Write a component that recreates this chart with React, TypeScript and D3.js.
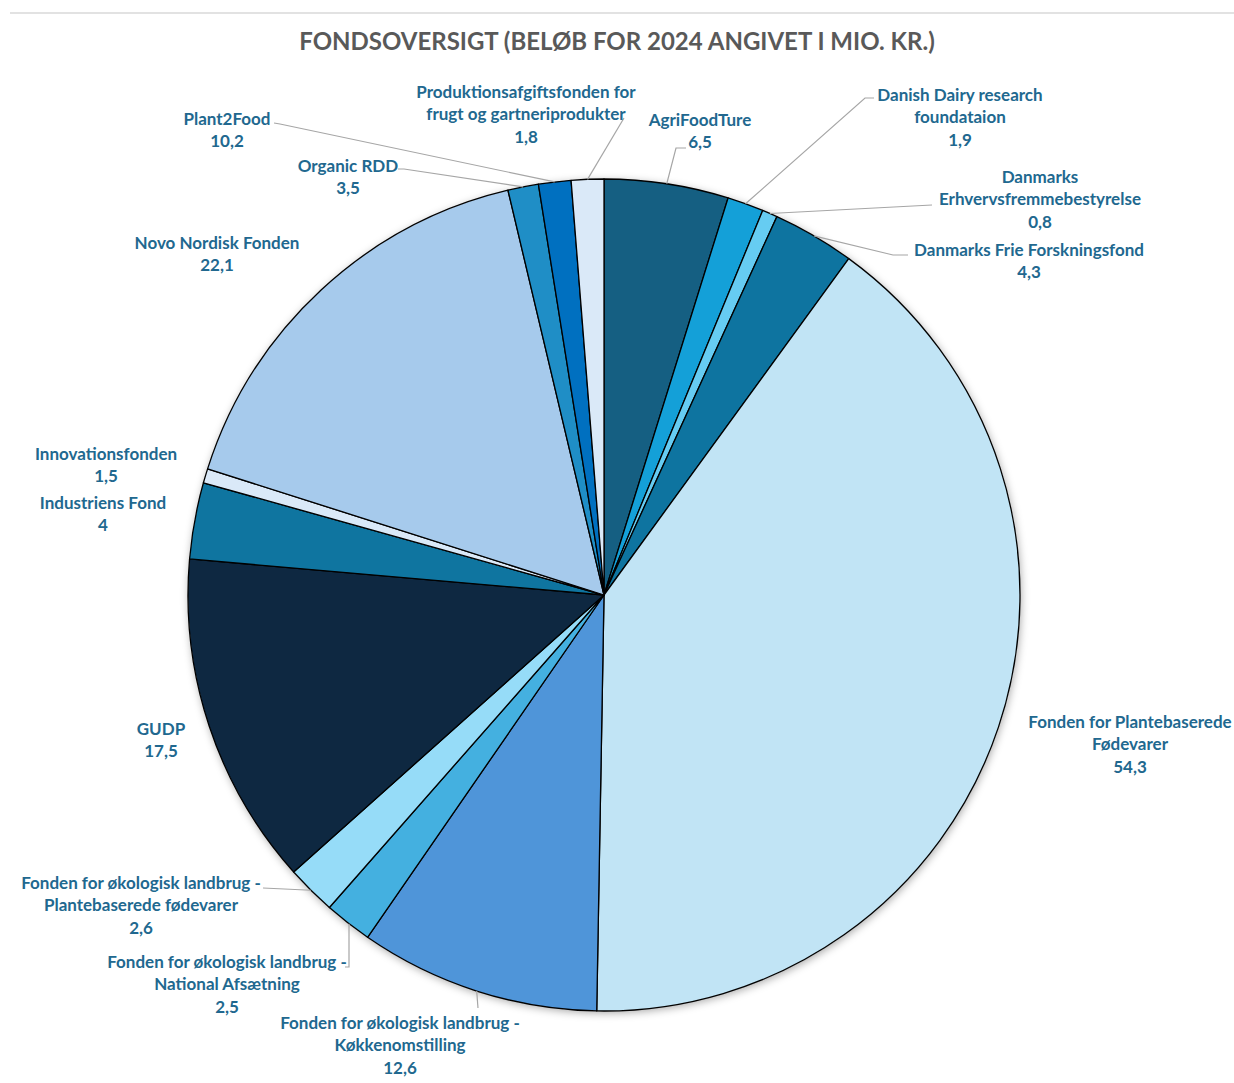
import React from "react";
import * as d3 from "d3";

// ---------- DATA ----------
const funds: string[][] = [
  ["AgriFoodTure"],
  ["Danish Dairy research", "foundataion"],
  ["Danmarks", "Erhvervsfremmebestyrelse"],
  ["Danmarks Frie Forskningsfond"],
  ["Fonden for Plantebaserede", "Fødevarer"],
  ["Fonden for økologisk landbrug -", "Køkkenomstilling"],
  ["Fonden for økologisk landbrug -", "National Afsætning"],
  ["Fonden for økologisk landbrug -", "Plantebaserede fødevarer"],
  ["GUDP"],
  ["Industriens Fond"],
  ["Innovationsfonden"],
  ["Novo Nordisk Fonden"],
  ["Organic RDD"],
  ["Plant2Food"],
  ["Produktionsafgiftsfonden for", "frugt og gartneriprodukter"],
];

// slice sizes as drawn in the reference (mio. kr.)
const sliceValues: number[] = [
  6.5, 1.9, 0.8, 4.3, 54.3, 12.6, 2.5, 2.6, 17.5, 4, 0.75, 22.1, 1.6, 1.7, 1.7,
];

// values printed in the data labels
const labelValues: string[] = [
  "6,5", "1,9", "0,8", "4,3", "54,3", "12,6", "2,5", "2,6", "17,5", "4", "1,5", "22,1", "3,5", "10,2", "1,8",
];

const sliceColors: string[] = [
  "#155f82", "#14a0d8", "#66ccf2", "#0e74a0", "#c1e4f5", "#4f95d9", "#44b0e0", "#96dcf8",
  "#0e2841", "#0f75a0", "#dae9f8", "#a6caec", "#1f8ec6", "#0070c0", "#dae9f8",
];

const title = "FONDSOVERSIGT (BELØB FOR 2024 ANGIVET I MIO. KR.)";

// ---------- LAYOUT ----------
const W = 1234;
const H = 1083;
const cx = 604;
const cy = 595;
const R = 416;
const lineH = 22.5;

// label block center x and first-line y; leader points from label side (pie point appended)
const labelLayout: { x: number; y: number; leader?: [number, number][]; vertical?: boolean }[] = [
  { x: 700, y: 120, leader: [[686, 148], [676, 148]] },
  { x: 960, y: 95, leader: [[874, 98], [865, 98]] },
  { x: 1040, y: 177, leader: [[932, 205]] },
  { x: 1029, y: 250, leader: [[908, 255], [893, 255]] },
  { x: 1130, y: 722 },
  { x: 400, y: 1023, leader: [[478, 1008]] },
  { x: 227, y: 962, leader: [[345, 967], [349, 967]], vertical: true },
  { x: 141, y: 883, leader: [[263, 888]] },
  { x: 161, y: 729 },
  { x: 103, y: 503 },
  { x: 106, y: 454 },
  { x: 217, y: 243 },
  { x: 348, y: 166, leader: [[398, 169], [404, 169]] },
  { x: 227, y: 119, leader: [[274, 123], [280, 124]] },
  { x: 526, y: 92, leader: [[624, 118]] },
];

export default function App() {
  const pie = d3.pie<number>().sort(null).value((d) => d);
  const arcs = pie(sliceValues);
  const arc = d3.arc<d3.PieArcDatum<number>>().innerRadius(0).outerRadius(R);
  const line = d3.line();

  const labelFont = "Lato, 'Noto Sans', sans-serif";

  return (
    <svg
      width={W}
      height={H}
      style={{ position: "absolute", left: 0, top: 0, background: "#fff" }}
    >
      <defs>
        <filter id="shadow" x="-10%" y="-10%" width="120%" height="120%">
          <feDropShadow dx="1" dy="2" stdDeviation="4" floodColor="#000" floodOpacity="0.35" />
        </filter>
      </defs>
      <line x1={10} x2={1234} y1={13} y2={13} stroke="#d9d9d9" strokeWidth={1.5} />
      <text
        x={617}
        y={50}
        textAnchor="middle"
        fontFamily={labelFont}
        fontWeight={700}
        fontSize={24}
        fill="#595959"
      >
        {title}
      </text>

      <g transform={`translate(${cx},${cy})`}>
        <circle r={R} fill="#fff" filter="url(#shadow)" />
        {arcs.map((a, i) => (
          <path
            key={i}
            d={arc(a) || ""}
            fill={sliceColors[i]}
            stroke="#000"
            strokeWidth={1.3}
            strokeLinejoin="round"
          />
        ))}
      </g>

      {/* leader lines */}
      {arcs.map((a, i) => {
        const lay = labelLayout[i];
        if (!lay.leader) return null;
        const mid = (a.startAngle + a.endAngle) / 2;
        let px = cx + R * Math.sin(mid);
        let py = cy - R * Math.cos(mid);
        const pts: [number, number][] = [...lay.leader];
        if (lay.vertical) {
          const last = pts[pts.length - 1];
          px = last[0];
          py = cy + Math.sqrt(R * R - (px - cx) * (px - cx));
        }
        pts.push([px, py]);
        return (
          <path key={i} d={line(pts) || ""} fill="none" stroke="#a6a6a6" strokeWidth={1.2} />
        );
      })}

      {/* labels */}
      {funds.map((lines, i) => {
        const lay = labelLayout[i];
        const all = [...lines, labelValues[i]];
        return (
          <text
            key={i}
            textAnchor="middle"
            fontFamily={labelFont}
            fontWeight={700}
            fontSize={17}
            fill="#21688f"
          >
            {all.map((t, j) => (
              <tspan key={j} x={lay.x} y={lay.y + j * lineH} dy="0.35em">
                {t}
              </tspan>
            ))}
          </text>
        );
      })}
    </svg>
  );
}
